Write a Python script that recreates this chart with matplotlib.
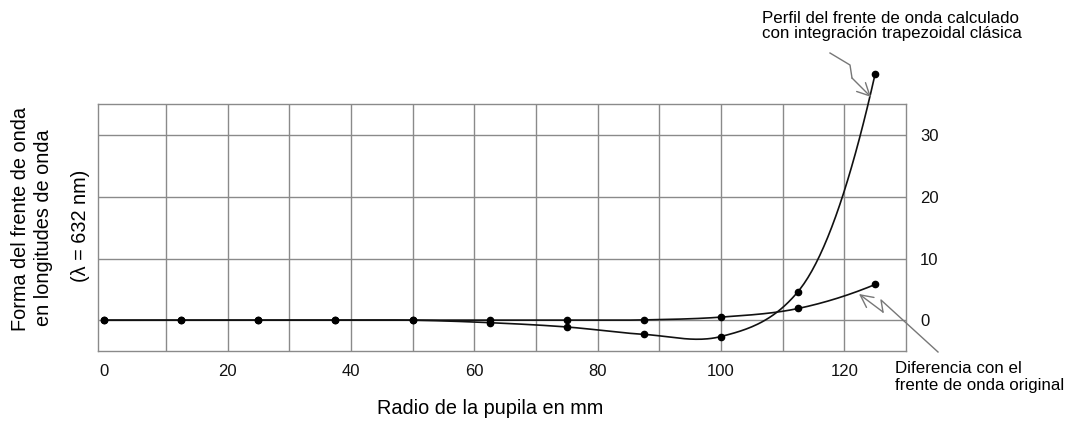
import numpy as np
import matplotlib
matplotlib.use("Agg")
import matplotlib.pyplot as plt
from matplotlib.lines import Line2D
from matplotlib.patches import FancyArrowPatch

# ---- data ----
radius = [0, 12.5, 25, 37.5, 50, 62.5, 75, 87.5, 100, 112.5, 125]
trapezoidal = [0, 0, 0, 0, 0, -0.4, -1.1, -2.3, -2.65, 4.65, 40.0]
difference = [0, 0, 0, 0, 0, 0, 0, 0.05, 0.5, 1.9, 5.8]
x_ticks = [0, 20, 40, 60, 80, 100, 120]
y_ticks = [0, 10, 20, 30]

W, H = 1071, 421
plt.rcParams['font.family'] = ['Liberation Sans', 'DejaVu Sans']


def px(x, y):
    return x / W, 1 - y / H


def smooth(x, y, n=40):
    x = np.asarray(x, float)
    y = np.asarray(y, float)
    dx = np.diff(x)
    dy = np.diff(y)
    s = dy / dx
    L = np.hypot(dx, dy)
    m = np.zeros_like(x)
    for i in range(1, len(x) - 1):
        m[i] = (s[i - 1] * L[i] + s[i] * L[i - 1]) / (L[i - 1] + L[i])
    m[0] = 2 * s[0] - m[1]
    m[-1] = 2 * s[-1] - m[-2]
    xs, ys = [], []
    for i in range(len(x) - 1):
        t = np.linspace(0, 1, n, endpoint=(i == len(x) - 2))
        h00 = 2 * t**3 - 3 * t**2 + 1
        h10 = t**3 - 2 * t**2 + t
        h01 = -2 * t**3 + 3 * t**2
        h11 = t**3 - t**2
        xs.append(x[i] + t * dx[i])
        ys.append(h00 * y[i] + h10 * dx[i] * m[i] + h01 * y[i + 1] + h11 * dx[i] * m[i + 1])
    return np.concatenate(xs), np.concatenate(ys)


fig = plt.figure(figsize=(W / 100, H / 100), dpi=100)
ax = fig.add_axes([98 / W, 1 - 351 / H, (906 - 98) / W, (351 - 104) / H])

grid_c = '#8a8a8a'
ax.set_xlim(-1, 130)
ax.set_ylim(-5, 35.1)
ax.set_xticks(x_ticks)
ax.set_xticks([10, 30, 50, 70, 90, 110], minor=True)
ax.set_yticks(y_ticks)
ax.yaxis.tick_right()
ax.tick_params(axis='both', which='both', length=0, labelsize=12, colors='#111111')
ax.tick_params(axis='x', pad=9)
ax.tick_params(axis='y', pad=10)
ax.grid(True, which='both', color=grid_c, linewidth=1.0)
ax.xaxis.get_gridlines()[0].set_visible(False)
for sp in ax.spines.values():
    sp.set_color(grid_c)
    sp.set_linewidth(1.0)
ax.set_axisbelow(True)

for series in (trapezoidal, difference):
    sx, sy = smooth(radius, series)
    ax.plot(sx, sy, color='#111111', linewidth=1.2, clip_on=False, zorder=3)
    ax.plot(radius, series, 'o', color='black', markersize=4.5, clip_on=False, zorder=4)

# axis labels
lab_fs = 14.3
fig.text(*px(21, 219), 'Forma del frente de onda', rotation=90, ha='center', va='center', fontsize=lab_fs)
fig.text(*px(44, 228), 'en longitudes de onda', rotation=90, ha='center', va='center', fontsize=lab_fs)
fig.text(*px(81, 226), '(λ = 632 nm)', rotation=90, ha='center', va='center', fontsize=lab_fs)
fig.text(*px(490, 409), 'Radio de la pupila en mm', ha='center', va='center', fontsize=lab_fs)

# annotations
ann_fs = 12.2
fig.text(*px(762, 26), 'Perfil del frente de onda calculado\ncon integración trapezoidal clásica',
         ha='left', va='center', fontsize=ann_fs, linespacing=1.05)
fig.text(*px(895, 377), 'Diferencia con el\nfrente de onda original',
         ha='left', va='center', fontsize=ann_fs, linespacing=1.1)

arrow_c = '#777777'


def zigzag(points):
    pts = [px(*p) for p in points]
    xs = [p[0] for p in pts[:-1]]
    ys = [p[1] for p in pts[:-1]]
    fig.add_artist(Line2D(xs, ys, transform=fig.transFigure, color=arrow_c, linewidth=1.0))
    fig.add_artist(FancyArrowPatch(pts[-2], pts[-1], transform=fig.transFigure,
                                   arrowstyle='->,head_length=6,head_width=3',
                                   color=arrow_c, linewidth=1.0, mutation_scale=1.5,
                                   shrinkA=0, shrinkB=0))


zigzag([(830, 53), (850, 65), (852, 78), (871, 97)])
zigzag([(938, 352), (881, 300), (883, 312), (859, 294)])

fig.savefig('out.png', dpi=100)
